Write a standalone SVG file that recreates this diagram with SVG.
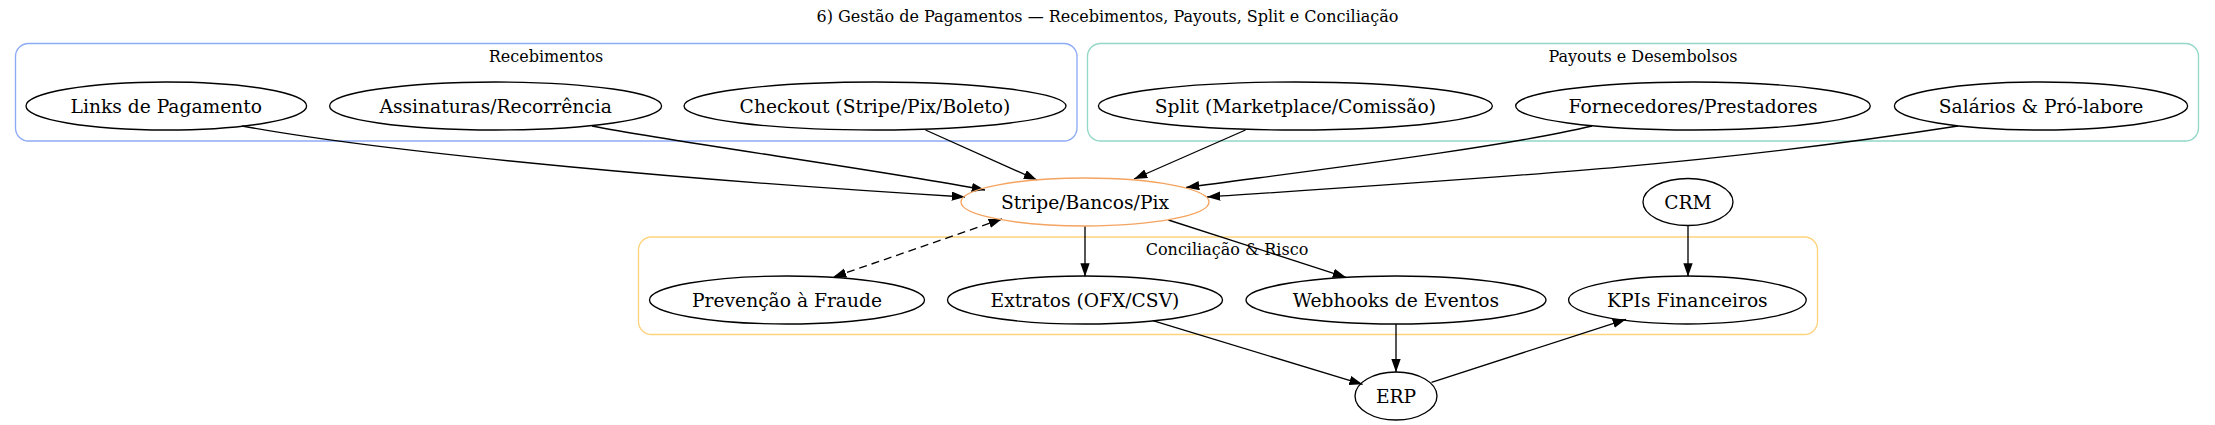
<svg xmlns="http://www.w3.org/2000/svg" width="2215" height="425" viewBox="0 0 2215 425">
<defs>
<style>
text{font-family:"DejaVu Serif","Liberation Serif",serif;fill:#000}
.node ellipse{fill:none;stroke:#000;stroke-width:1.33}
.node text{font-size:18.67px;text-anchor:middle}
.cl rect{fill:none;stroke-width:1.33}
.cl text{font-size:16px;text-anchor:middle}
.edges path{fill:none;stroke:#000;stroke-width:1.33}
</style>
<marker id="ah" markerUnits="userSpaceOnUse" markerWidth="14" markerHeight="10" refX="13.3" refY="4.67" orient="auto-start-reverse" viewBox="0 0 14 10">
<path d="M0,0 L13.3,4.67 L0,9.33 z" fill="#000"/>
</marker>
</defs>
<rect width="2215" height="425" fill="#fff"/>
<text x="1107.5" y="22" font-size="16" text-anchor="middle">6) Gestão de Pagamentos — Recebimentos, Payouts, Split e Conciliação</text>

<g id="cluster_receb" class="cl">
<rect x="15.5" y="43.5" width="1061.5" height="97.5" rx="13" stroke="#8caaf6"/>
<text x="546" y="61.5">Recebimentos</text>
</g>
<g id="cluster_payouts" class="cl">
<rect x="1087.5" y="43.5" width="1111" height="97.5" rx="13" stroke="#92d7c7"/>
<text x="1643" y="61.5">Payouts e Desembolsos</text>
</g>
<g id="cluster_concil" class="cl">
<rect x="638.5" y="237" width="1179" height="97.5" rx="13" stroke="#fdd37c"/>
<text x="1227" y="254.5">Conciliação &amp; Risco</text>
</g>

<g id="edges" class="edges">
<path d="M242,126 C400,155 715,182 965,197" marker-end="url(#ah)"/>
<path d="M592,126 C680,143 880,170 985,190" marker-end="url(#ah)"/>
<path d="M925.5,130 L1037,180" marker-end="url(#ah)"/>
<path d="M1245.5,130 L1134,179" marker-end="url(#ah)"/>
<path d="M1592,126 C1500,148 1300,172 1186,187.5" marker-end="url(#ah)"/>
<path d="M1958,126 C1708,165 1507,177 1207,197" marker-end="url(#ah)"/>
<path d="M1002,219 L833,277.3" stroke-dasharray="8,5" marker-start="url(#ah)" marker-end="url(#ah)"/>
<path d="M1085,226 L1085,276.5" marker-end="url(#ah)"/>
<path d="M1168.4,220 L1346,277.3" marker-end="url(#ah)"/>
<path d="M1688,226 L1688,276.5" marker-end="url(#ah)"/>
<path d="M1152.8,320.7 L1362.6,384.3" marker-end="url(#ah)"/>
<path d="M1396,324 L1396,372.3" marker-end="url(#ah)"/>
<path d="M1431.5,382.3 L1626,319.3" marker-end="url(#ah)"/>
</g>

<g id="n_links" class="node"><ellipse cx="166.3" cy="106" rx="140.3" ry="24"/><text x="166.3" y="112.5">Links de Pagamento</text></g>
<g id="n_assin" class="node"><ellipse cx="495.6" cy="106" rx="166" ry="24"/><text x="495.6" y="112.5">Assinaturas/Recorrência</text></g>
<g id="n_checkout" class="node"><ellipse cx="875" cy="106" rx="191" ry="24"/><text x="875" y="112.5">Checkout (Stripe/Pix/Boleto)</text></g>
<g id="n_split" class="node"><ellipse cx="1295.4" cy="106" rx="197" ry="24"/><text x="1295.4" y="112.5">Split (Marketplace/Comissão)</text></g>
<g id="n_fornec" class="node"><ellipse cx="1693" cy="106" rx="177.3" ry="24"/><text x="1693" y="112.5">Fornecedores/Prestadores</text></g>
<g id="n_salarios" class="node"><ellipse cx="2041" cy="106" rx="146.6" ry="24"/><text x="2041" y="112.5">Salários &amp; Pró-labore</text></g>
<g id="n_stripe" class="node"><ellipse cx="1085" cy="202" rx="124" ry="24" style="stroke:#f4a460"/><text x="1085" y="208.5">Stripe/Bancos/Pix</text></g>
<g id="n_crm" class="node"><ellipse cx="1688" cy="202" rx="45" ry="23.5"/><text x="1688" y="208.5">CRM</text></g>
<g id="n_fraude" class="node"><ellipse cx="787" cy="300" rx="137.5" ry="24"/><text x="787" y="306.5">Prevenção à Fraude</text></g>
<g id="n_extratos" class="node"><ellipse cx="1085" cy="300" rx="137.5" ry="24"/><text x="1085" y="306.5">Extratos (OFX/CSV)</text></g>
<g id="n_webhooks" class="node"><ellipse cx="1396" cy="300" rx="150" ry="24"/><text x="1396" y="306.5">Webhooks de Eventos</text></g>
<g id="n_kpis" class="node"><ellipse cx="1687.4" cy="300" rx="118.8" ry="24"/><text x="1687.4" y="306.5">KPIs Financeiros</text></g>
<g id="n_erp" class="node"><ellipse cx="1396" cy="396" rx="41" ry="24"/><text x="1396" y="402.5">ERP</text></g>
</svg>
